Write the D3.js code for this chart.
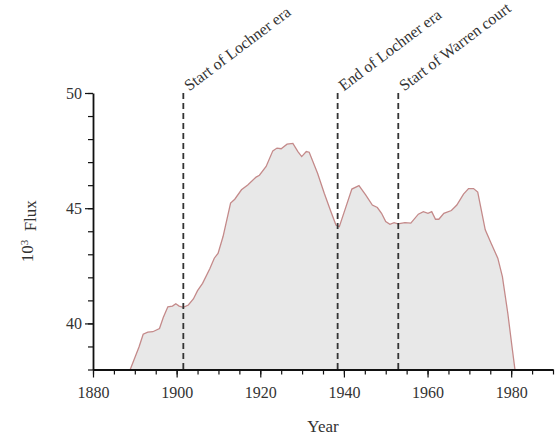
<!DOCTYPE html>
<html><head><meta charset="utf-8">
<script src="https://cdn.jsdelivr.net/npm/d3@7/dist/d3.min.js"></script>
<style>
body{margin:0;background:#fff;}
text{font-family:"Liberation Serif","Times New Roman",serif;}
</style></head>
<body><svg id="c" width="557" height="438"></svg>
<script>
const years = [1888.3,1888.9,1891.0,1892.0,1893.1,1894.3,1895.9,1896.8,1897.9,1899.0,1899.8,1900.6,1901.6,1902.8,1904.0,1905.0,1906.2,1907.9,1909.0,1909.9,1911.1,1912.9,1913.9,1915.5,1917.0,1919.0,1919.8,1921.4,1923.0,1924.0,1925.0,1926.4,1927.8,1929.0,1929.9,1931.0,1931.7,1933.7,1935.3,1936.9,1938.1,1938.5,1938.9,1940.5,1941.9,1943.6,1945.2,1946.8,1948.0,1949.0,1950.0,1951.0,1952.0,1952.9,1954.6,1956.0,1957.8,1959.0,1960.1,1961.0,1961.9,1962.7,1963.9,1965.7,1967.0,1968.6,1969.8,1971.0,1972.0,1973.8,1975.2,1976.8,1977.9,1979.2,1980.1,1980.9,1981.2];
const flux = [37.7,38.0,38.98,39.53,39.62,39.64,39.78,40.26,40.72,40.75,40.85,40.75,40.70,40.80,41.06,41.42,41.74,42.36,42.83,43.04,43.77,45.22,45.39,45.80,46.01,46.35,46.43,46.81,47.49,47.61,47.58,47.78,47.81,47.46,47.24,47.46,47.43,46.52,45.65,44.85,44.27,44.23,44.20,45.07,45.83,45.98,45.58,45.14,45.03,44.78,44.42,44.30,44.37,44.32,44.37,44.35,44.74,44.85,44.78,44.85,44.52,44.52,44.78,44.90,45.14,45.61,45.85,45.85,45.70,44.06,43.48,42.83,42.03,40.43,39.13,38.0,37.6];
const eventYears = [1901.6, 1938.5, 1953.0];
const eventLabels = ["Start of Lochner era", "End of Lochner era", "Start of Warren court"];
const xMajorTicks = [1880,1900,1920,1940,1960,1980];
const yMajorTicks = [40,45,50];

const svg = d3.select("#c");
const L = 93, R = 553, T = 93, B = 369.5;
const x = d3.scaleLinear().domain([1880,1990]).range([L,R]);
const y = d3.scaleLinear().domain([38,50]).range([B,T]);
const data = years.map((d,i)=>({year:d, v:flux[i]}));

svg.append("defs").append("clipPath").attr("id","clip")
  .append("rect").attr("x",L).attr("y",T).attr("width",R-L).attr("height",B-T);

const g = svg.append("g").attr("clip-path","url(#clip)");
g.append("path").datum(data)
  .attr("d", d3.area().x(d=>x(d.year)).y0(y(38)).y1(d=>y(d.v)))
  .attr("fill","#e8e8e8");
g.append("path").datum(data)
  .attr("d", d3.line().x(d=>x(d.year)).y(d=>y(d.v)))
  .attr("fill","none").attr("stroke","#c48a8a").attr("stroke-width",1.3);

// event lines
eventYears.forEach((yr,i)=>{
  svg.append("line").attr("x1",x(yr)).attr("x2",x(yr)).attr("y1",y(50)).attr("y2",y(38))
    .attr("stroke","#333").attr("stroke-width",1.8).attr("stroke-dasharray","6,4");
  svg.append("text").attr("transform",`translate(${x(yr)+6},${y(50)-1.5}) rotate(-37)`)
    .attr("font-size",16).attr("fill","#333").text(eventLabels[i]);
});

// axes
const minorX = d3.range(1880,1991,5);
const minorY = d3.range(38,51,1);
const xa = svg.append("g").attr("transform",`translate(0,${B})`);
xa.call(d3.axisBottom(x).tickValues(minorX).tickSize(5).tickSizeOuter(0).tickFormat(""));
xa.append("g").call(d3.axisBottom(x).tickValues(xMajorTicks).tickSize(8).tickSizeOuter(0).tickFormat(d3.format("d")))
  .call(s=>s.select(".domain").remove());
const ya = svg.append("g").attr("transform",`translate(${L},0)`);
ya.call(d3.axisLeft(y).tickValues(minorY).tickSize(5).tickSizeOuter(0).tickFormat(""));
ya.append("g").call(d3.axisLeft(y).tickValues(yMajorTicks).tickSize(8).tickSizeOuter(0).tickFormat(d3.format("d")))
  .call(s=>s.select(".domain").remove());
svg.selectAll(".domain").attr("stroke","#111").attr("stroke-width",1.8);
svg.selectAll(".tick line").attr("stroke","#111").attr("stroke-width",1.2);
svg.selectAll(".tick text").attr("font-family","Liberation Serif, serif").attr("font-size",16).attr("fill","#333");
xa.selectAll(".tick text").attr("dy","1.1em");

svg.append("text").attr("x",(L+R)/2).attr("y",432).attr("text-anchor","middle")
  .attr("font-size",17).attr("fill","#333").text("Year");
const yl = svg.append("text").attr("transform",`translate(33,${(T+B)/2}) rotate(-90)`)
  .attr("text-anchor","middle").attr("font-size",17).attr("fill","#333");
yl.append("tspan").text("10");
yl.append("tspan").attr("dy","-0.5em").attr("font-size",11).text("3");
yl.append("tspan").attr("dy","0.5em").text("\u00a0\u00a0Flux");
</script></body></html>
